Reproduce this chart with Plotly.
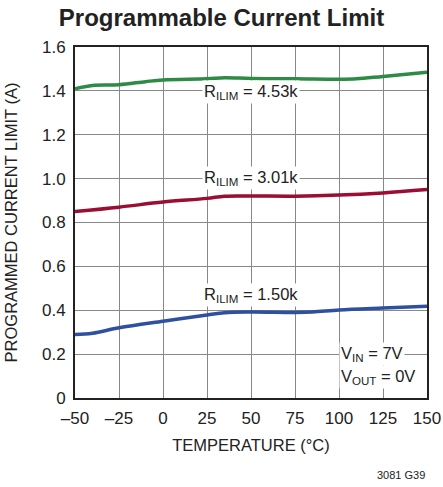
import plotly.graph_objects as go

temp_green = [-50, -40, -25, -10, 0, 25, 35, 50, 75, 100, 110, 125, 150]
ilim_453k = [1.41, 1.425, 1.428, 1.442, 1.45, 1.455, 1.46, 1.456, 1.455, 1.453, 1.455, 1.466, 1.485]
temp_red = [-50, -25, 0, 25, 35, 50, 75, 100, 125, 150]
ilim_301k = [0.85, 0.87, 0.893, 0.91, 0.92, 0.921, 0.92, 0.925, 0.935, 0.95]
temp_blue = [-50, -40, -25, 0, 25, 35, 50, 75, 85, 100, 125, 150]
ilim_150k = [0.29, 0.295, 0.32, 0.35, 0.378, 0.389, 0.392, 0.39, 0.392, 0.401, 0.41, 0.418]

x_ticks = [-50, -25, 0, 25, 50, 75, 100, 125, 150]
x_tick_labels = ["–50", "–25", "0", "25", "50", "75", "100", "125", "150"]
y_ticks = [0, 0.2, 0.4, 0.6, 0.8, 1.0, 1.2, 1.4, 1.6]
y_tick_labels = ["0", "0.2", "0.4", "0.6", "0.8", "1.0", "1.2", "1.4", "1.6"]

FONT = "Liberation Sans, Arial"

fig = go.Figure()
fig.add_trace(go.Scatter(x=temp_green, y=ilim_453k, mode="lines", line=dict(color="#2e8b45", width=3.5, shape="spline"), showlegend=False))
fig.add_trace(go.Scatter(x=temp_red, y=ilim_301k, mode="lines", line=dict(color="#9b0d33", width=3.5, shape="spline"), showlegend=False))
fig.add_trace(go.Scatter(x=temp_blue, y=ilim_150k, mode="lines", line=dict(color="#2f4fa0", width=3.5, shape="spline"), showlegend=False))

ann_font = dict(family=FONT, size=16.5, color="#222")
for xv, yv, txt in [(50, 1.395, "R<sub>ILIM</sub> = 4.53k"), (50, 1.005, "R<sub>ILIM</sub> = 3.01k"), (50, 0.47, "R<sub>ILIM</sub> = 1.50k")]:
    fig.add_annotation(x=xv, y=yv, text=txt, showarrow=False, font=ann_font, bgcolor="white", borderpad=1)
fig.add_annotation(x=100, y=0.2, text="V<sub>IN</sub> = 7V", showarrow=False, xanchor="left", font=ann_font, bgcolor="white", borderpad=1)
fig.add_annotation(x=100, y=0.095, text="V<sub>OUT</sub> = 0V", showarrow=False, xanchor="left", font=ann_font, bgcolor="white", borderpad=1)

fig.add_annotation(xref="paper", yref="paper", x=1, y=-0.22, yanchor="middle", text="3081 G39", showarrow=False, xanchor="right",
                   font=dict(family=FONT, size=11, color="#222"))

fig.update_layout(
    width=443, height=487,
    margin=dict(l=75, r=16, t=47, b=89),
    paper_bgcolor="white", plot_bgcolor="white",
    title=dict(text="<b>Programmable Current Limit</b>", x=0.5, xanchor="center", y=0.982, yanchor="top", font=dict(family=FONT, size=24, color="#222")),
    font=dict(family=FONT, color="#222"),
)
fig.update_xaxes(range=[-50, 150], tickvals=x_ticks, ticktext=x_tick_labels, showgrid=True, gridcolor="#888", gridwidth=1,
                 showline=True, linecolor="#222", linewidth=2, mirror=True, ticks="", tickfont=dict(size=17), automargin=False,
                 ticklabelstandoff=4,
                 title=dict(text="TEMPERATURE (°C)", font=dict(size=16.5), standoff=12), zeroline=False)
fig.update_yaxes(range=[0, 1.6], tickvals=y_ticks, ticktext=y_tick_labels, showgrid=True, gridcolor="#888", gridwidth=1,
                 showline=True, linecolor="#222", linewidth=2, mirror=True, ticks="", tickfont=dict(size=17), automargin=False,
                 ticklabelstandoff=4,
                 title=dict(text="PROGRAMMED CURRENT LIMIT (A)", font=dict(size=16.5), standoff=20), zeroline=False)

fig.write_html("out.html", config={"displayModeBar": False},
               post_script="document.body.style.margin='0';document.body.style.overflow='hidden';")
